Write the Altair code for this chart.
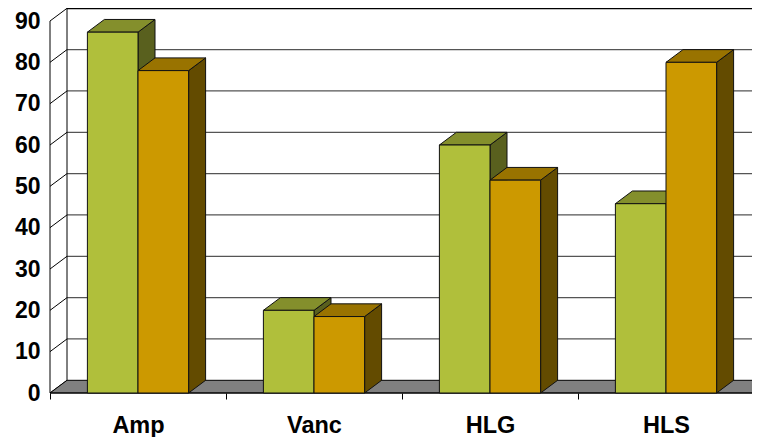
import altair as alt
import pandas as pd

categories = ["Amp", "Vanc", "HLG", "HLS"]
green_values = [87.3, 20, 60, 45.8]
orange_values = [78, 18.5, 51.5, 80]
y_ticks = [0, 10, 20, 30, 40, 50, 60, 70, 80, 90]
grid_ticks = [10, 20, 30, 40, 50, 60, 70, 80]
x_ticks = [0, 1, 2, 3, 4]

GREEN = ("#B0BF3B", "#848F2C", "#59601E")
ORANGE = ("#CC9900", "#997300", "#634B00")
FONT = "Liberation Sans"

# 3-D depth, in axis units
DX = 17 / 176
DY = 12.7 / (372 / 90)
BAR = 0.2875
START = 0.2125
XMAX = 702 / 176
YMAX = 385 / (372 / 90)

xs = alt.Scale(domain=[0, XMAX], nice=False, zero=False)
ys = alt.Scale(domain=[0, YMAX], nice=False, zero=False)

label_expr = "{" + ",".join(f"'{i + 0.5}':'{c}'" for i, c in enumerate(categories)) + "}[''+datum.value]"
x_axis = alt.Axis(
    values=sorted(x_ticks + [i + 0.5 for i in range(len(categories))]),
    title=None, domain=False, grid=False, tickSize=6, tickColor="black",
    tickOpacity={"condition": {"test": "datum.value % 1 === 0", "value": 1}, "value": 0},
    labelExpr=label_expr, labelFont=FONT, labelFontSize=23.5, labelFontWeight="bold", labelColor="black",
    labelPadding=14, labelOverlap=False, labelFlush=False, labelBound=False)
y_axis = alt.Axis(
    values=y_ticks, title=None, domain=False, grid=False, ticks=False,
    labelFont=FONT, labelFontSize=23, labelFontWeight="bold", labelColor="black",
    labelPadding=10, labelOverlap=False, labelFlush=False, labelBound=False)

X = alt.X("x:Q", scale=xs, axis=x_axis)
Y = alt.Y("y:Q", scale=ys, axis=y_axis)


def faces(values, offset, colors):
    front, top, side = [], [], []
    for i, (c, v) in enumerate(zip(categories, values)):
        x0 = i + offset
        x1 = x0 + BAR
        front.append({"id": c, "x": x0, "x2": x1, "y": 0, "y2": v})
        top.append({"id": c, "y": v, "x": x0, "x2": x1})
        top.append({"id": c, "y": v + DY, "x": x0 + DX, "x2": x1 + DX})
        side.append({"id": c, "x": x1, "y": 0, "y2": v})
        side.append({"id": c, "x": x1 + DX, "y": DY, "y2": v + DY})
    line = dict(stroke="#111111", strokeWidth=1)
    s = alt.Chart(pd.DataFrame(side)).mark_area(color=colors[2], **line, opacity=1).encode(
        x=X, y=Y, y2="y2:Q", detail="id:N")
    t = alt.Chart(pd.DataFrame(top)).mark_area(color=colors[1], orient="horizontal", **line, opacity=1).encode(
        y=Y, x=X, x2="x2:Q", detail="id:N")
    f = alt.Chart(pd.DataFrame(front)).mark_rect(color=colors[0], **line, opacity=1).encode(
        x=X, x2="x2:Q", y=Y, y2="y2:Q")
    return [s, t, f]


# back wall gridlines
grid = alt.Chart(pd.DataFrame({"y": [v + DY for v in grid_ticks], "x": [DX] * len(grid_ticks),
                               "x2": [XMAX] * len(grid_ticks)})).mark_rule(
    color="#555555", strokeWidth=1.3).encode(x=X, x2="x2:Q", y=Y)
top_line = alt.Chart(pd.DataFrame({"y": [90 + DY], "x": [DX], "x2": [XMAX]})).mark_rule(
    color="black", strokeWidth=2).encode(x=X, x2="x2:Q", y=Y)
wall_left = alt.Chart(pd.DataFrame({"x": [DX], "y": [DY], "y2": [90 + DY]})).mark_rule(
    color="black", strokeWidth=1).encode(x=X, y=Y, y2="y2:Q")

# slanted ticks joining the front axis to the back wall
slant = []
for v in y_ticks:
    slant.append({"id": v, "x": 0, "y": v})
    slant.append({"id": v, "x": DX, "y": v + DY})
slants = alt.Chart(pd.DataFrame(slant)).mark_line(color="black", strokeWidth=1).encode(
    x=X, y=Y, detail="id:N")

# floor
floor = alt.Chart(pd.DataFrame([
    {"y": 0, "x": 0, "x2": 4},
    {"y": DY, "x": DX, "x2": 4 + DX},
])).mark_area(color="#808080", orient="horizontal", stroke="black", strokeWidth=1, opacity=1).encode(
    y=Y, x=X, x2="x2:Q")

x_rule = alt.Chart(pd.DataFrame({"x": [0], "x2": [4], "y": [0]})).mark_rule(color="black", strokeWidth=1).encode(
    x=X, x2="x2:Q", y=Y)
y_rule = alt.Chart(pd.DataFrame({"x": [0], "y": [0], "y2": [90]})).mark_rule(color="black", strokeWidth=1).encode(
    x=X, y=Y, y2="y2:Q")

layers = [grid, top_line, wall_left, slants, floor, x_rule, y_rule]
layers += faces(green_values, START, GREEN)
layers += faces(orange_values, START + BAR, ORANGE)

chart = alt.layer(*layers).properties(
    width=702, height=385,
    padding={"left": 42, "top": 0, "right": 0, "bottom": 44},
    autosize="none",
    background="white",
).configure_view(stroke=None)

chart.save("out.html", embed_options={"renderer": "svg", "actions": False})
